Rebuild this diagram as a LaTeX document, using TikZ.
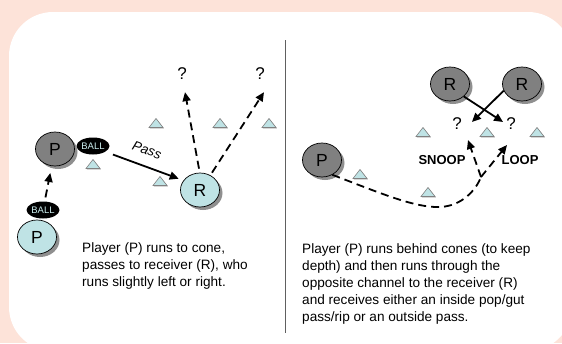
\documentclass[tikz,border=0pt]{standalone}
\usepackage{fontspec}
\setmainfont{Liberation Sans}
\usetikzlibrary{shapes.geometric,arrows.meta,shadows,calc}
\definecolor{bgpink}{HTML}{FDE3D9}
\definecolor{lblue}{HTML}{BFE3E5}
\definecolor{dgray}{HTML}{808080}
\definecolor{shad}{HTML}{8F8F8F}
\definecolor{balltext}{HTML}{CDEFF0}
\definecolor{divgray}{HTML}{606060}
\newcommand\drawcone[1]{%
  \fill[shad, shift={#1}, xshift=0.8pt, yshift=-0.8pt] (-7,4.5) -- (0,-4.5) -- (7,4.5) -- cycle;
  \draw[conestyle, shift={#1}] (-7,4.5) -- (0,-4.5) -- (7,4.5) -- cycle;}
\begin{document}
\begin{tikzpicture}[x=1pt,y=-1pt,
  player/.style={ellipse, draw=black, line width=0.7pt, minimum width=39pt, minimum height=34pt,
    inner sep=0pt, font=\fontsize{17.5}{17.5}\selectfont,
    general shadow={fill=shad, shadow xshift=3pt, shadow yshift=-3pt}},
  lightp/.style={player, fill=lblue},
  darkp/.style={player, fill=dgray},
  ball/.style={ellipse, fill=black, minimum width=33pt, minimum height=17pt, inner sep=0pt,
    text=balltext, font=\fontsize{9.5}{9.5}\selectfont},
  qmark/.style={font=\fontsize{17}{17}\selectfont, inner sep=0pt},
  conestyle/.style={fill=lblue, draw=dgray, line width=0.6pt},
  dashline/.style={dash pattern=on 8pt off 5pt, line width=1.8pt},
  dasharrow/.style={dashline, -{Triangle[length=9pt,width=8pt]}},
  solidarrow/.style={line width=1.8pt, -{Triangle[length=9pt,width=8pt]}},
  desc/.style={align=left, anchor=north west, inner sep=0pt, font=\fontsize{13.6}{17}\selectfont},
  callout/.style={inner sep=0pt, font=\fontsize{13}{13}\selectfont\bfseries}
]
\useasboundingbox (0,0) rectangle (562,343);
\clip (0,0) rectangle (562,343);
\fill[bgpink] (0,0) rectangle (562,343);
\fill[white, rounded corners=44pt] (9,12) rectangle (572,351);
\draw[divgray, line width=1pt] (285,40) -- (285,333);

% ---------- left panel ----------
\drawcone{(93,164)}
\drawcone{(160,181)}
\drawcone{(156,123)}
\drawcone{(220,123)}
\drawcone{(269,123)}

\node[lightp] (pa) at (37,237) {P};
\node[ball] (ba) at (43,210) {BALL};
\node[darkp] (pb) at (55,149) {P};
\node[ball] (bb) at (93,146) {BALL};
\node[lightp] (ra) at (200,190) {R};
\node[qmark] (qa) at (182,74) {?};
\node[qmark] (qb) at (260,74) {?};
\node[inner sep=0pt, rotate=-20, font=\fontsize{13.5}{13.5}\selectfont\itshape] (passlbl) at (147,150) {Pass};

\draw[dasharrow, shorten <=4pt, shorten >=7pt] (ba) -- (pb);
\draw[solidarrow, shorten <=8pt, shorten >=5pt] (bb.-25) -- (ra.150);
\draw[dasharrow] ($(ra.north)+(-1,-4)$) -- ($(qa.south)+(3,12)$);
\draw[dasharrow, shorten <=3pt] (ra.55) -- ($(qb.south)+(4,12)$);

\node[desc] (txtl) at (82,242.5) {Player (P) runs to cone,\\passes to receiver (R), who\\runs slightly left or right.};

% ---------- right panel ----------
\drawcone{(423,132)}
\drawcone{(487,132)}
\drawcone{(537,132)}
\drawcone{(360,174)}
\drawcone{(428,192)}

\node[darkp] (pc) at (322,160) {P};
\node[darkp] (rb) at (450,84) {R};
\node[darkp] (rc) at (522,84) {R};
\node[qmark] (qc) at (457,124) {?};
\node[qmark] (qd) at (511,124) {?};
\node[callout] (snoop) at (442,160) {SNOOP};
\node[callout] (loop) at (520,160) {LOOP};

\draw[solidarrow] (rb.-42) -- ($(qd.west)+(-3,-2)$);
\draw[solidarrow] (rc.200) -- ($(qc.east)+(10,-2)$);

\coordinate (split) at (481,177);
\coordinate (snoopend) at (468,140);
\coordinate (loopend) at (507,145);
\draw[dashline] (pc.-55) .. controls (380,193) and (415,208) .. (440,207)
  .. controls (462,206) and (476,190) .. (split);
\draw[dasharrow] (split) -- (snoopend);
\draw[dasharrow] (split) -- (loopend);

\node[desc] (txtr) at (302,243.5) {Player (P) runs behind cones (to keep\\depth) and then runs through the\\opposite channel to the receiver (R)\\and receives either an inside pop/gut\\pass/rip or an outside pass.};
\end{tikzpicture}
\end{document}
